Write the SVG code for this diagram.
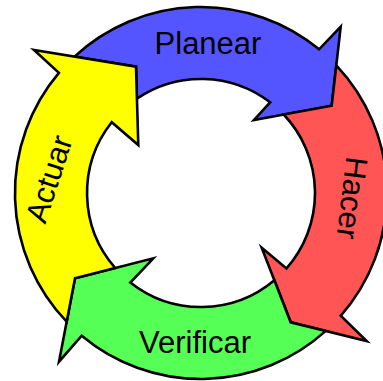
<svg xmlns="http://www.w3.org/2000/svg" width="383" height="381" viewBox="0 0 383 381">
<style>
.arrow{stroke:#000;stroke-width:2.6;stroke-linejoin:miter;stroke-miterlimit:10}
.lbl{font-family:"Liberation Sans",Arial,sans-serif;font-size:31px;fill:#000;text-anchor:middle}
</style>
<rect width="383" height="381" fill="#fff"/>
<g id="connectors"></g>
<g id="planear">
<path class="arrow" fill="#5555FF" d="M74.5,56.6 A186,186 0 0 1 319.1,49.3 L340.7,26.7 L331.7,105.7 L254,120 L270.1,102.3 A114,114 0 0 0 136.9,98.7 L136,66.7 Z"/>
<text class="lbl" x="208" y="54">Planear</text>
</g>
<g id="hacer">
<path class="arrow" fill="#FF5555" d="M336.3,65.4 A186,186 0 0 1 340.7,315.8 L366.7,341 L290.7,322.3 L261.7,247.7 L286.5,268.4 A114,114 0 0 0 283.7,114.5 L331.7,105.7 Z"/>
<text class="lbl" transform="translate(352,198) rotate(97)" x="0" y="10.5">Hacer</text>
</g>
<g id="verificar">
<path class="arrow" fill="#55FF55" d="M325.8,330.9 A186,186 0 0 1 81.7,335.7 L59,361.7 L75,278.3 L153.3,258.3 L130.3,282.5 A114,114 0 0 0 274.4,280.3 L290.7,322.3 Z"/>
<text class="lbl" x="195" y="353">Verificar</text>
</g>
<g id="actuar">
<path class="arrow" fill="#FFFF00" d="M66.7,321.7 A186,186 0 0 1 58.9,72.9 L34,50 L136,66.7 L138.3,145 L111.7,122.2 A114,114 0 0 0 115.2,268 L75,278.3 Z"/>
<text class="lbl" transform="translate(49,179) rotate(-72)" x="0" y="10.5">Actuar</text>
</g>
</svg>
